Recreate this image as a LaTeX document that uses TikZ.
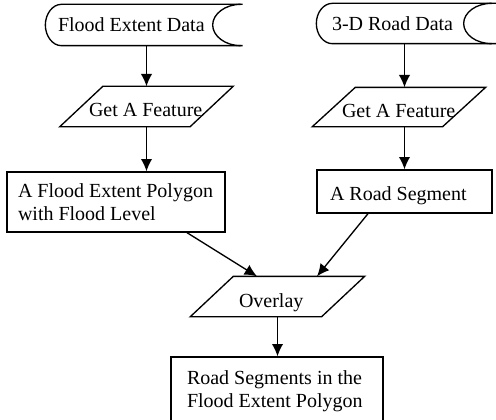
\documentclass[tikz,border=0pt]{standalone}
\usepackage{fontspec}
\setmainfont{Liberation Serif}
\usetikzlibrary{calc,arrows.meta}
\newcommand{\lbox}[2]{\makebox[#1][l]{#2}}
\newcommand{\paral}[1]{\draw ($(#1.south west)+(-21.5,0)$) -- ($(#1.south east)+(-21.5,0)$) -- ($(#1.north east)+(21.5,0)$) -- ($(#1.north west)+(21.5,0)$) -- cycle;}
\newcommand{\sdpath}[2]{%
 \draw (#1.north east) -- ($(#1.north west)+(16,0)$) .. controls ($(#1.north west)+(7.2,0)$) and ($(#1.west)+(0,-11)$) .. (#1.west) .. controls ($(#1.west)+(0,11)$) and ($(#1.south west)+(7.2,0)$) .. ($(#1.south west)+(16,0)$) -- (#1.south east);
 \draw ($(#1.north east)+(#2,0)$) .. controls ($(#1.north east)+(#2-15.5,0)$) and ($(#1.east)+(#2-28,-11)$) .. ($(#1.east)+(#2-28,0)$) .. controls ($(#1.east)+(#2-28,11)$) and ($(#1.south east)+(#2-15.5,0)$) .. ($(#1.south east)+(#2,0)$);}
\begin{document}
\begin{tikzpicture}[x=0.6pt,y=-0.6pt,line width=0.8pt,
  txt/.style={inner ysep=0pt,font=\fontsize{12}{13.8}\selectfont},
  one/.style={txt,text depth=0pt},
  boxed/.style={draw},
  arr/.style={-{Latex[length=7.4pt,width=6.8pt]}}]
\useasboundingbox (0,0) rectangle (496,420);
\fill[white] (0,0) rectangle (496,420);
\clip (0,0) rectangle (496,420);

% stored data shapes
\node[one,minimum width=117.6pt,minimum height=24pt,inner xsep=7.2pt,text height=8.4pt] (sd1) at (144,25) {\lbox{103.2pt}{Flood Extent Data}};
\node[one,minimum width=107.4pt,minimum height=23.4pt,inner xsep=9pt,text height=9pt] (sd2) at (406.5,23.5) {\lbox{89.4pt}{3-D Road Data}};
\sdpath{sd1}{-2}
\sdpath{sd2}{-5}

% get a feature
\node[one,minimum width=77.4pt,minimum height=23.4pt,inner xsep=4.2pt,text height=12.6pt] (gf1) at (146.5,106.5) {\lbox{69pt}{Get A Feature}};
\node[one,minimum width=77.4pt,minimum height=22.8pt,inner xsep=4.5pt,text height=12.6pt] (gf2) at (399,107) {\lbox{68.4pt}{Get A Feature}};
\paral{gf1}
\paral{gf2}

% rectangles
\node[txt,boxed,align=left,minimum width=130.8pt,minimum height=36pt,inner xsep=6.6pt] (lr) at (116,202) {\lbox{117.6pt}{A Flood Extent Polygon}\\\lbox{117.6pt}{with Flood Level}};
\node[one,boxed,minimum width=105pt,minimum height=25.8pt,inner xsep=7.8pt,text height=10.2pt] (rr) at (404.5,191.5) {\lbox{89.4pt}{A Road Segment}};

% overlay
\node[one,minimum width=78pt,minimum height=23.4pt,inner xsep=15.9pt,text height=13.4pt] (ov) at (277.5,296.5) {\lbox{46.2pt}{Overlay}};
\paral{ov}

% result
\node[txt,boxed,align=left,minimum width=127.2pt,minimum height=40.9pt,inner xsep=9.6pt] (br) at (277,391.1) {\lbox{108pt}{Road Segments in the}\\\lbox{108pt}{Flood Extent Polygon}};

% connectors
\draw[arr] (sd1.south -| gf1.north) -- (gf1.north);
\draw[arr] (sd2.south -| rr.north) -- (gf2.north -| rr.north);
\draw[arr] (gf1.south) -- (gf1.south |- lr.north);
\draw[arr] (gf2.south -| rr.north) -- (rr.north);
\draw[arr] ($(lr.south)+(71,0)$) -- ($(ov.north)+(-20.5,0)$);
\draw[arr] ($(rr.south)+(-36.5,0)$) -- ($(ov.north)+(39.5,0)$);
\draw[arr] (ov.south) -- (ov.south |- br.north);
\end{tikzpicture}
\end{document}
